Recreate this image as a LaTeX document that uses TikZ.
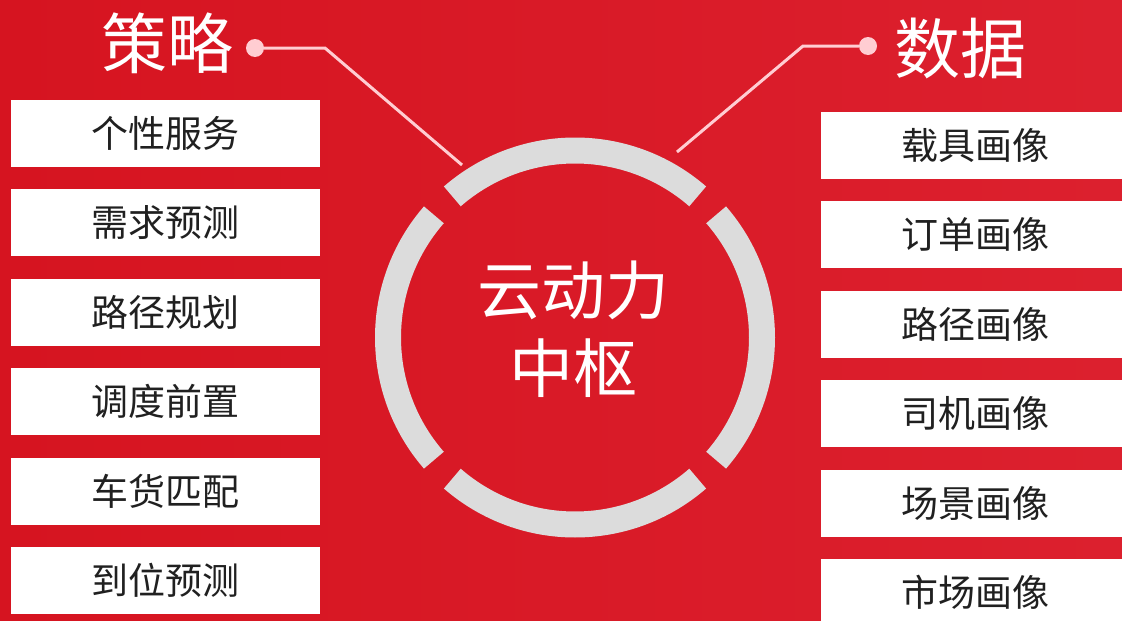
\documentclass[tikz,border=0pt]{standalone}
\usepackage{fontspec}
\setmainfont{Noto Sans CJK SC}
\usetikzlibrary{positioning}

\definecolor{bgred}{RGB}{214,20,32}
\definecolor{bgredlight}{RGB}{220,32,46}
\definecolor{ringgray}{RGB}{220,220,220}
\definecolor{linkpink}{RGB}{255,205,210}
\definecolor{boxtext}{RGB}{32,32,32}

\tikzset{
  item/.style={fill=white, minimum width=309pt, minimum height=67pt, inner sep=0pt,
    text=boxtext, font=\fontsize{37}{40}\selectfont},
  title/.style={text=white, inner sep=0pt, font=\fontsize{66}{70}\selectfont},
  hubtext/.style={text=white, inner sep=0pt, align=center, font=\fontsize{64}{78}\selectfont},
  ring/.style={draw=ringgray, line width=26pt},
  link/.style={draw=linkpink, line width=3pt},
  dot/.style={circle, fill=linkpink, minimum size=18pt, inner sep=0pt},
}

\begin{document}
\begin{tikzpicture}[x=1pt, y=-1pt, node distance=22pt]
  % Background
  \shade[left color=bgred, right color=bgredlight] (0,0) rectangle (1122,621);
  \useasboundingbox (0,0) rectangle (1122,621);

  % Centre
  \coordinate (hub) at (575,337.5);
  \foreach \a in {0,90,180,270}
    \draw[ring] ([shift={(\a+49:187)}]hub) arc[start angle=\a+49, end angle=\a+131, radius=187];
  \node[hubtext] (core) at (573,329) {云动力\\中枢};

  % Titles
  \node[title] (strategy) at (167,43) {策略};
  \node[title] (data) at (960,48) {数据};

  % Left column
  \node[item]                    (s1) at (165.5,133.5) {个性服务};
  \node[item, below=of s1]       (s2) {需求预测};
  \node[item, below=of s2]       (s3) {路径规划};
  \node[item, below=of s3]       (s4) {调度前置};
  \node[item, below=of s4]       (s5) {车货匹配};
  \node[item, below=of s5]       (s6) {到位预测};

  % Right column
  \node[item]                    (d1) at (975.5,145.5) {载具画像};
  \node[item, below=of d1]       (d2) {订单画像};
  \node[item, below=of d2]       (d3) {路径画像};
  \node[item, below=of d3]       (d4) {司机画像};
  \node[item, below=of d4]       (d5) {场景画像};
  \node[item, below=of d5]       (d6) {市场画像};

  % Links
  \coordinate (lbend) at (325,48);
  \coordinate (lend)  at (462,165);
  \coordinate (rbend) at (803,46);
  \coordinate (rend)  at (677,152);
  \node[dot] (ldot) at (255,48) {};
  \node[dot] (rdot) at (868,46) {};
  \draw[link] (ldot) -- (lbend) -- (lend);
  \draw[link] (rdot) -- (rbend) -- (rend);
\end{tikzpicture}
\end{document}
